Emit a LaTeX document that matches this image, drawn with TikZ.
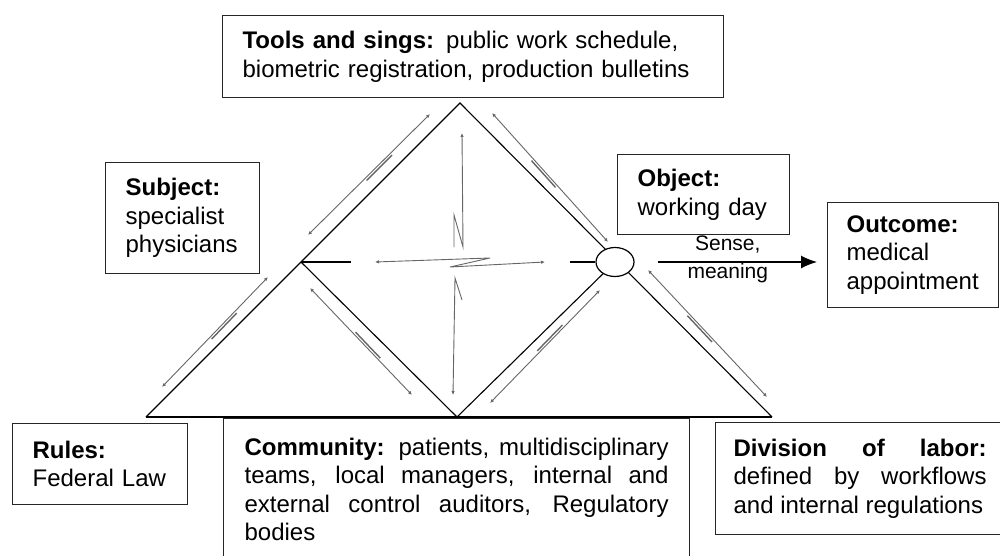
\documentclass[tikz,border=0pt]{standalone}
\usepackage{fontspec}
\setmainfont{Liberation Sans}
\usetikzlibrary{arrows.meta,calc,shapes.geometric}

\begin{document}
\begin{tikzpicture}[x=1pt, y=-1pt,
    font=\fontsize{24}{28.5}\selectfont,
    >={Latex[length=4pt, width=3.5pt]},
    box/.style={draw=black!85, line width=1.2pt, anchor=north west, align=left,
                inner xsep=20pt, inner ysep=0pt,
                execute at begin node={\tolerance=10000 \hbadness=10000}},
    edge/.style={line width=1.1pt},
    strainline/.style={draw=black!60, line width=0.9pt},
    strainarrow/.style={strainline, <->}]
  \useasboundingbox (0,0) rectangle (1000,556);
  \clip (0,0) rectangle (1000,556);

  \coordinate (top) at (460,103);
  \coordinate (subj) at (301,262);
  \coordinate (objc) at (615,262);
  \coordinate (bot) at (457,417);
  \coordinate (lc) at (146,417);
  \coordinate (rc) at (772,417);

  \draw[edge] (lc) -- (top) -- (rc);
  \draw[edge] (subj) -- (bot) -- (objc);
  \draw[line width=2.4pt] (lc) -- (rc);

  \node[box, text width=461pt, minimum height=82pt] (tools) at (222,15)
    {\textbf{Tools and sings:} public work schedule,\\biometric registration, production bulletins};
  \node[box, text width=114pt, minimum height=111pt] (subject) at (105,162)
    {\textbf{Subject:}\\specialist\\physicians};
  \node[box, text width=132pt, minimum height=80pt] (object) at (617,154)
    {\textbf{Object:}\\working day};
  \node[box, text width=133pt, inner xsep=19pt, minimum height=105pt] (outcome) at (827,202)
    {\textbf{Outcome:}\\medical\\appointment};
  \node[box, text width=135pt, minimum height=81pt] (rules) at (12,423)
    {\textbf{Rules:}\\Federal Law};
  \node[box, text width=424pt, inner xsep=21pt, minimum height=142pt, align=justify] (community) at (223,418)
    {\textbf{Community:} patients, multidisciplinary\linebreak teams, local managers, internal and\linebreak
     external control auditors, Regulatory\linebreak bodies};
  \node[box, text width=253pt, inner xsep=18pt, minimum height=112pt, align=justify] (division) at (715,422)
    {\textbf{Division of labor:}\linebreak defined by workflows\linebreak and internal regulations};

  \node[ellipse, draw, line width=1.2pt, fill=white, minimum width=38pt, minimum height=29pt] (obj) at (objc) {};

  \draw[edge] (subj) -- ++(50,0);
  \draw[edge] (obj.west) -- ++(-25,0);

  \draw[-{Latex[length=16pt, width=13pt]}, line width=1.3pt, shorten <=23pt, shorten >=10pt]
    (obj.east) -- (obj.east -| outcome.west)
    node[midway, xshift=-3pt, yshift=3pt, align=center, font=\fontsize{21}{28}\selectfont] {Sense,\\meaning};

  \draw[strainarrow] (375,262) -- (490,258) -- (450,267) -- (545,262);
  \draw[strainline, ->] (454,247) -- (454,215) -- (463,247) -- (462,133);
  \draw[strainline, ->] (462,300) -- (455,278) -- (453,395);

  \foreach \xa/\ya/\xb/\yb/\f/\r in {308/235/430/114/0.57/-90, 492/113/608/242/0.46/-90,
      310/288/412/395/0.55/90, 490/403/600/290/0.56/90,
      162/387/268/277/0.57/-90, 648/270/767/397/0.45/-90}{
    \coordinate (p) at (\xa,\ya);
    \coordinate (q) at (\xb,\yb);
    \draw[strainarrow] (p) -- (q);
    \draw[strainline, line width=1.4pt] ($(p)!\f!(q)!18pt!(q)!2.5pt!\r:(q)$)
      -- ($(p)!\f!(q)!-18pt!(q)!2.5pt!\r:(q)$);
  }
\end{tikzpicture}
\end{document}
